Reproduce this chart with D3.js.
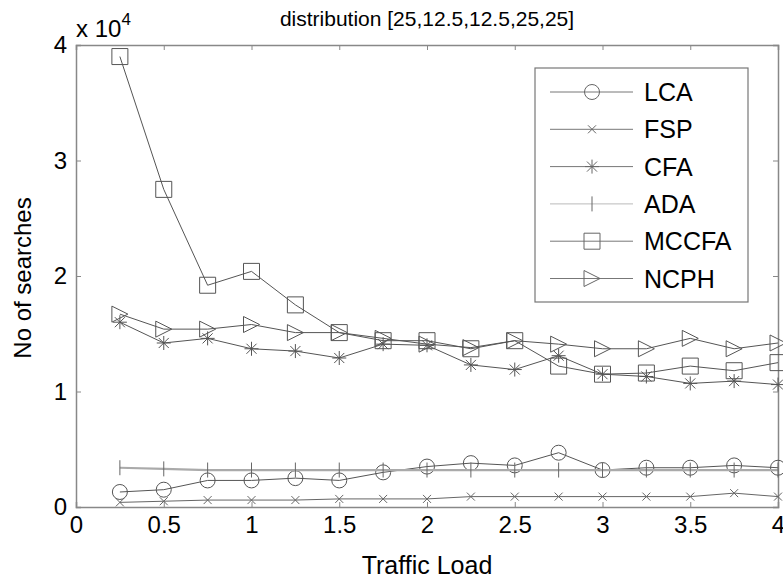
<!DOCTYPE html>
<html>
<head>
<meta charset="utf-8">
<script src="https://cdn.jsdelivr.net/npm/d3@7"></script>
<style>
  html, body { margin: 0; padding: 0; background: #fff; }
  svg { display: block; font-family: "Liberation Sans", Arial, Helvetica, sans-serif; }
</style>
</head>
<body>
<svg id="chart" width="783" height="581"></svg>
<script>
// Traffic load values (x axis)
const trafficLoad = [0.25, 0.5, 0.75, 1, 1.25, 1.5, 1.75, 2, 2.25, 2.5, 2.75, 3, 3.25, 3.5, 3.75, 4];

// Number of searches, in units of 10^4
const lca   = [0.13, 0.15, 0.23, 0.23, 0.25, 0.23, 0.30, 0.35, 0.38, 0.36, 0.47, 0.32, 0.34, 0.34, 0.36, 0.34];
const fsp   = [0.04, 0.05, 0.06, 0.06, 0.06, 0.07, 0.07, 0.07, 0.09, 0.09, 0.09, 0.09, 0.09, 0.09, 0.12, 0.09];
const cfa   = [1.60, 1.42, 1.46, 1.37, 1.35, 1.29, 1.41, 1.40, 1.23, 1.19, 1.31, 1.15, 1.13, 1.07, 1.09, 1.06];
const ada   = [0.34, 0.33, 0.32, 0.32, 0.32, 0.32, 0.32, 0.32, 0.32, 0.32, 0.32, 0.32, 0.32, 0.32, 0.32, 0.32];
const mccfa = [3.90, 2.75, 1.92, 2.04, 1.75, 1.51, 1.44, 1.44, 1.37, 1.44, 1.22, 1.15, 1.16, 1.22, 1.18, 1.25];
const ncph  = [1.67, 1.54, 1.54, 1.58, 1.51, 1.51, 1.46, 1.41, 1.38, 1.44, 1.41, 1.37, 1.37, 1.46, 1.37, 1.42];

const seriesNames = ["LCA", "FSP", "CFA", "ADA", "MCCFA", "NCPH"];
const seriesValues = [lca, fsp, cfa, ada, mccfa, ncph];

const xTicks = [0, 0.5, 1, 1.5, 2, 2.5, 3, 3.5, 4];
const yTicks = [0, 1, 2, 3, 4];

const titleText = "distribution [25,12.5,12.5,25,25]";
const xLabel = "Traffic Load";
const yLabel = "No of searches";

// Custom marker shapes (MATLAB-like) for d3.symbol
const symTriRight = { draw(ctx, size) { const r = Math.sqrt(size) / 2;
  ctx.moveTo(-r, -r); ctx.lineTo(r, 0); ctx.lineTo(-r, r); ctx.closePath(); } };
const symX = { draw(ctx, size) { const r = Math.sqrt(size) / 2;
  ctx.moveTo(-r, -r); ctx.lineTo(r, r); ctx.moveTo(-r, r); ctx.lineTo(r, -r); } };
const symStar = { draw(ctx, size) { const r = Math.sqrt(size) / 2, d = r * 0.72;
  ctx.moveTo(0, -r); ctx.lineTo(0, r); ctx.moveTo(-r, 0); ctx.lineTo(r, 0);
  ctx.moveTo(-d, -d); ctx.lineTo(d, d); ctx.moveTo(-d, d); ctx.lineTo(d, -d); } };
const symBar = { draw(ctx, size) { const r = Math.sqrt(size) / 2;
  ctx.moveTo(0, -r); ctx.lineTo(0, r); } };

const styles = [
  { type: d3.symbolCircle, size: Math.PI * 7.5 * 7.5, stroke: "#555", width: 1 },
  { type: symX,           size: 64,  stroke: "#666", width: 1 },
  { type: symStar,        size: 196, stroke: "#555", width: 1 },
  { type: symBar,         size: 225, stroke: "#aaa", width: 2.2, markStroke: "#666", markWidth: 1 },
  { type: d3.symbolSquare, size: 256, stroke: "#555", width: 1 },
  { type: symTriRight,    size: 256, stroke: "#555", width: 1 }
];

const svg = d3.select("#chart");
const margin = { left: 76, right: 5, top: 45, bottom: 74 };
const W = 783, H = 581;

const x = d3.scaleLinear().domain([0, 4]).range([margin.left, W - margin.right]);
const y = d3.scaleLinear().domain([0, 4]).range([H - margin.bottom, margin.top]);

// Box frame with inward ticks on all four sides
const axisColor = "#888";
function styleAxis(g, labels) {
  g.select(".domain").attr("stroke", axisColor).attr("stroke-width", 1.5);
  g.selectAll(".tick line").attr("stroke", axisColor);
  g.selectAll(".tick text").attr("fill", labels ? "#000" : "none")
    .style("font-size", "24px").style("font-family", "'Liberation Sans', Arial, sans-serif");
}

svg.append("g").attr("transform", `translate(0,${y(0)})`)
  .call(d3.axisBottom(x).tickValues(xTicks).tickFormat(d3.format("")).tickSize(-5).tickPadding(9))
  .call(g => styleAxis(g, true));
svg.append("g").attr("transform", `translate(0,${y(4)})`)
  .call(d3.axisTop(x).tickValues(xTicks).tickFormat("").tickSize(-5))
  .call(g => styleAxis(g, false));
svg.append("g").attr("transform", `translate(${x(0)},0)`)
  .call(d3.axisLeft(y).tickValues(yTicks).tickFormat(d3.format("")).tickSize(-5).tickPadding(9))
  .call(g => styleAxis(g, true));
svg.append("g").attr("transform", `translate(${x(4)},0)`)
  .call(d3.axisRight(y).tickValues(yTicks).tickFormat("").tickSize(-5))
  .call(g => styleAxis(g, false));

// Series lines and markers
const line = d3.line().x((d, i) => x(trafficLoad[i])).y(d => y(d));
seriesValues.forEach((vals, k) => {
  const st = styles[k];
  const g = svg.append("g").attr("class", "series-" + seriesNames[k]);
  g.append("path").attr("d", line(vals)).attr("fill", "none")
    .attr("stroke", st.stroke).attr("stroke-width", st.width);
  g.selectAll("path.mark").data(vals).join("path").attr("class", "mark")
    .attr("transform", (d, i) => `translate(${x(trafficLoad[i])},${y(d)})`)
    .attr("d", d3.symbol().type(st.type).size(st.size))
    .attr("fill", "none").attr("stroke", st.markStroke || st.stroke)
    .attr("stroke-width", st.markWidth || 1);
});

// Legend
const lg = svg.append("g").attr("class", "legend");
lg.append("rect").attr("x", 535).attr("y", 68).attr("width", 213).attr("height", 234)
  .attr("fill", "#fff").attr("stroke", "#777").attr("stroke-width", 1.2);
seriesNames.forEach((name, k) => {
  const st = styles[k];
  const yy = 92 + k * 37.3;
  lg.append("line").attr("x1", 550).attr("x2", 633).attr("y1", yy).attr("y2", yy)
    .attr("stroke", k === 3 ? "#bbb" : "#777").attr("stroke-width", 1);
  lg.append("path").attr("transform", `translate(592,${yy})`)
    .attr("d", d3.symbol().type(st.type).size(st.size))
    .attr("fill", "none").attr("stroke", "#666").attr("stroke-width", 1);
  lg.append("text").attr("x", 644).attr("y", yy).attr("dy", "0.36em")
    .style("font-size", "25px").attr("fill", "#000").text(name);
});

// Title, exponent and axis labels
svg.append("text").attr("x", 427).attr("y", 26).attr("text-anchor", "middle")
  .style("font-size", "21px").text(titleText);
const ex = svg.append("text").attr("x", 76).attr("y", 37).style("font-size", "24px");
ex.append("tspan").text("x 10");
ex.append("tspan").attr("dy", -12).style("font-size", "17px").text("4");
svg.append("text").attr("x", 427).attr("y", 574).attr("text-anchor", "middle")
  .style("font-size", "25px").text(xLabel);
svg.append("text").attr("transform", "translate(31,278) rotate(-90)").attr("text-anchor", "middle")
  .style("font-size", "24px").text(yLabel);
</script>
</body>
</html>
